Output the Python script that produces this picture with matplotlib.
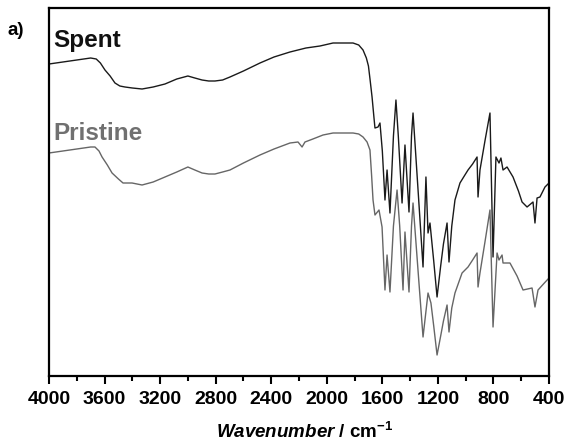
import matplotlib as mpl
mpl.use('agg')
import matplotlib.pyplot as plt
import numpy as np
from matplotlib.ticker import MultipleLocator

plt.rcParams['font.family'] = ['Liberation Sans', 'DejaVu Sans']
plt.rcParams['mathtext.fontset'] = 'custom'
plt.rcParams['mathtext.rm'] = 'Liberation Sans:bold'
plt.rcParams['mathtext.bfit'] = 'Liberation Sans:bold:italic'
plt.rcParams['mathtext.bf'] = 'Liberation Sans:bold'

# FTIR spectra (transmittance, arbitrary units)
wn_spent = [4000, 3900, 3800, 3700, 3660, 3630, 3597, 3560, 3525, 3490, 3453, 3400,
            3330, 3250, 3165, 3080, 3000, 2950, 2898, 2850, 2805, 2750, 2697, 2600,
            2481, 2380, 2265, 2150, 2049, 1955, 1880, 1811, 1770, 1739, 1715, 1700,
            1688, 1674, 1660, 1653, 1631, 1617, 1600, 1581,
            1566, 1545, 1520, 1502, 1485, 1458, 1437, 1408, 1390, 1379, 1340, 1307, 1286,
            1271, 1257, 1230, 1206, 1180, 1160, 1134, 1120, 1100, 1077, 1041, 1010, 983,
            950, 918, 911, 897, 860, 825, 803, 782, 760, 746, 731,
            702, 659, 620, 594, 558, 515, 501, 486, 465, 429, 400]
t_spent = [312, 314, 316, 318, 317, 313, 306, 300, 293, 290, 289, 288,
           287, 289, 292, 297, 300, 298, 296, 295, 295, 296, 299, 305,
           313, 319, 324, 328, 330, 333, 333, 333, 331, 326, 318, 310,
           296, 279, 258, 248, 249, 253, 225, 176,
           206, 163, 240, 276, 240, 173, 231, 164, 240, 263, 180, 109, 199,
           143, 153, 115, 79, 110, 132, 153, 114, 150, 176, 193, 200, 206,
           212, 219, 179, 206, 236, 263, 119, 219, 213, 218, 206,
           209, 199, 185, 174, 169, 174, 153, 178, 179, 189, 193]

wn_pristine = [4000, 3900, 3800, 3700, 3669, 3640, 3618, 3580, 3546, 3500, 3467,
               3402, 3330, 3250, 3165, 3080, 3000, 2950, 2898, 2850, 2805, 2750, 2697,
               2600, 2481, 2380, 2265, 2207, 2178, 2157, 2100, 2027, 1955, 1880, 1811,
               1770, 1739, 1710, 1689, 1677, 1667, 1653,
               1624, 1602, 1581, 1566, 1545, 1520, 1494, 1475, 1451, 1437, 1408, 1390, 1379,
               1340, 1307, 1271, 1250, 1230, 1206, 1180, 1160, 1134, 1120, 1100, 1077, 1026,
               983, 950, 918, 911, 897, 860, 825, 803, 774,
               760, 738, 731, 681, 630, 587, 522, 501, 479, 440, 400]
t_pristine = [223, 225, 227, 229, 229, 225, 219, 211, 203, 197, 193,
              193, 191, 194, 199, 204, 209, 206, 203, 202, 202, 204, 206,
              213, 221, 227, 233, 234, 229, 234, 237, 241, 243, 243, 243,
              242, 239, 234, 226, 200, 176, 161,
              166, 149, 86, 121, 84, 150, 186, 150, 86, 144, 84, 150, 173,
              100, 39, 83, 73, 50, 21, 40, 55, 71, 44, 68, 83, 103,
              109, 116, 123, 89, 103, 135, 166, 49, 123,
              116, 121, 113, 113, 100, 86, 88, 69, 86, 92, 98]

fig = plt.figure(figsize=(5.73, 4.43), dpi=100)
ax = fig.add_axes([49/573, 1-376/443, 500/573, 368/443])

ax.plot(wn_spent, t_spent, color='#1a1a1a', linewidth=1.0)
ax.plot(wn_pristine, t_pristine, color='#666666', linewidth=1.0)

ax.set_xlim(4000, 400)
ax.set_ylim(0, 368)
ax.xaxis.set_major_locator(MultipleLocator(400))
ax.xaxis.set_minor_locator(MultipleLocator(200))
ax.set_yticks([])
ax.tick_params(axis='x', which='major', direction='out', length=6, width=1.5, pad=5)
ax.tick_params(axis='x', which='minor', direction='out', length=3.5, width=1.5)
for lbl in ax.get_xticklabels():
    lbl.set_fontsize(14)
    lbl.set_fontweight('bold')
for s in ax.spines.values():
    s.set_linewidth(1.6)

fig.text(305/573, 1 - 438/443, r'$\mathbfit{Wavenumber}$ / cm$^{\mathbf{-1}}$',
         ha='center', va='baseline', fontsize=13.5, fontweight='bold')
fig.text(7/573, 1 - 35/443, 'a)', fontsize=13.5, fontweight='bold', va='baseline')
fig.text(53/573, 1 - 47/443, 'Spent', fontsize=17.5, fontweight='bold', color='#111111', va='baseline')
fig.text(53/573, 1 - 140/443, 'Pristine', fontsize=17.5, fontweight='bold', color='#707070', va='baseline')

fig.savefig("out.png", dpi=100)
